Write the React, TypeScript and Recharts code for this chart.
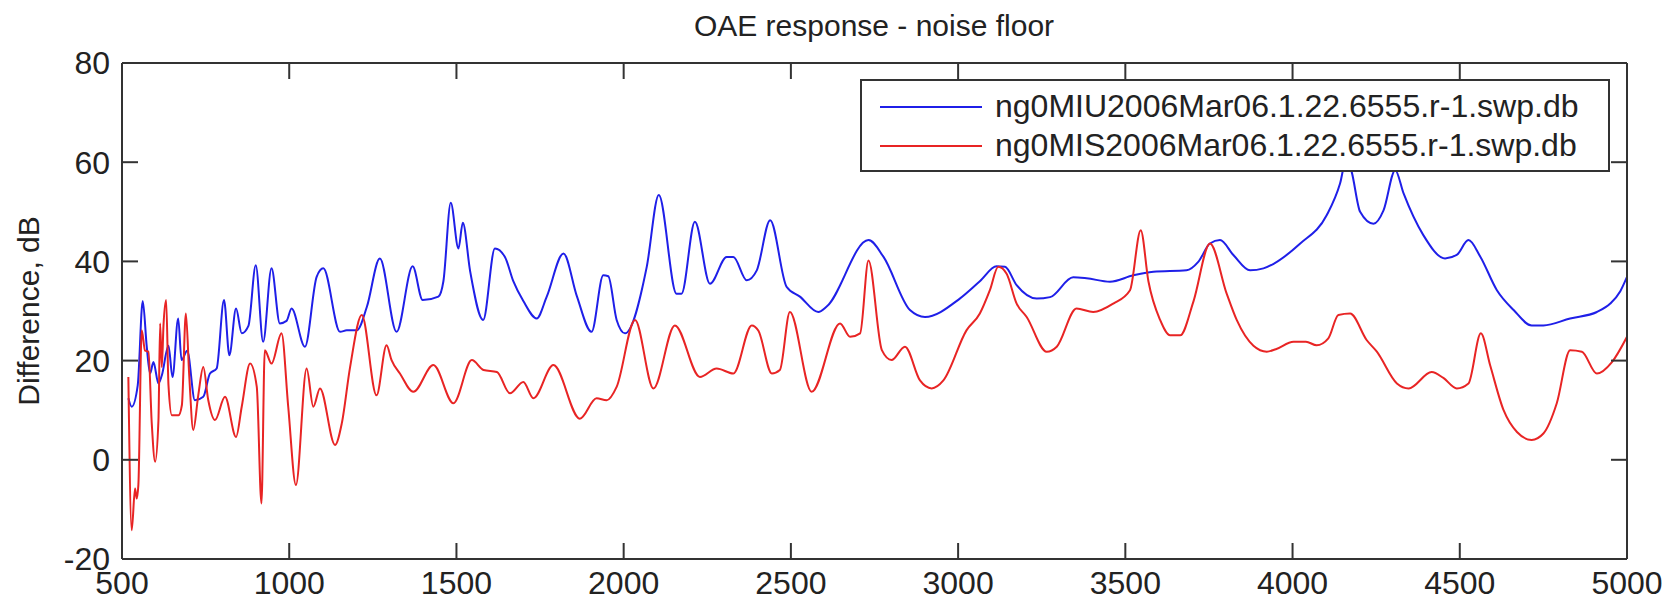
import { LineChart, Line, XAxis, YAxis, Legend, Label } from "recharts";

// frequency (Hz) / difference (dB)
const uFreq = [
  519, 529, 547, 562, 574, 584, 594, 609, 619, 639, 651, 668, 678, 695, 718, 743, 763, 783, 805, 821,
  841, 858, 878, 900, 922, 947, 972, 992, 1007, 1047, 1082, 1102, 1152, 1172, 1202, 1232, 1271, 1321, 1369, 1399,
  1446, 1461, 1483, 1506, 1519, 1541, 1580, 1615, 1645, 1670, 1700, 1740, 1770, 1820, 1860, 1904, 1939, 1954, 1979, 2004,
  2069, 2105, 2158, 2173, 2213, 2258, 2308, 2328, 2368, 2398, 2438, 2487, 2527, 2582, 2607, 2732, 2777, 2856, 2901, 3005,
  3065, 3115, 3140, 3175, 3235, 3275, 3344, 3384, 3454, 3524, 3584, 3683, 3718, 3753, 3783, 3823, 3873, 3913, 4023, 4102,
  4142, 4162, 4177, 4202, 4242, 4272, 4307, 4332, 4391, 4456, 4491, 4526, 4561, 4611, 4661, 4715, 4750, 4830, 4910, 4950,
  4980, 5000,
];
const uValues = [
  12.4, 10.7, 15, 32, 22.8, 17.4, 19.7, 15.4, 17, 23, 16.7, 28.5, 20.1, 22, 12, 12.7, 17.4, 18.4, 32.2, 21.1,
  30.5, 25.5, 27, 39.2, 23.8, 38.6, 27.5, 28, 30.5, 22.8, 36.9, 38.6, 25.8, 26.1, 26.1, 30.8, 40.6, 25.8, 39, 32.2,
  32.9, 36, 51.8, 42.6, 47.8, 38, 28.2, 42.6, 40.9, 36, 32, 28.5, 32.9, 41.6, 33, 25.8, 37.2, 37, 28.2, 25.5,
  38.9, 53.4, 33.5, 33.5, 48, 35.5, 40.9, 40.9, 36.2, 38.2, 48.3, 34.9, 32.9, 29.8, 30.9, 44.3, 40.9, 30.2, 28.8, 32.5,
  36, 39, 38.9, 35.2, 32.5, 32.8, 36.8, 36.6, 35.9, 37.2, 37.9, 38.2, 39.9, 43.6, 44.3, 41.3, 38.2, 38.6, 43.6, 49.3,
  55.7, 61, 58, 50, 47.6, 50.3, 58.4, 53.7, 45.3, 40.6, 41.3, 44.3, 41, 34.2, 30.2, 27.1, 27.1, 28.5, 29.8, 31.5,
  34, 36.9,
];

const sFreq = [
  519, 529, 539, 544, 549, 559, 569, 579, 589, 599, 609, 614, 619, 624, 632, 639, 649, 669, 679, 691,
  701, 713, 728, 743, 758, 778, 808, 841, 858, 883, 903, 917, 927, 947, 977, 997, 1020, 1052, 1072, 1092,
  1137, 1157, 1182, 1217, 1261, 1291, 1306, 1331, 1371, 1431, 1491, 1546, 1581, 1621, 1660, 1700, 1730, 1790, 1869, 1919,
  1949, 1979, 2034, 2089, 2153, 2228, 2278, 2328, 2383, 2403, 2443, 2467, 2497, 2562, 2647, 2677, 2707, 2732, 2772, 2801,
  2841, 2886, 2921, 2956, 3025, 3065, 3095, 3120, 3145, 3175, 3205, 3265, 3295, 3354, 3404, 3464, 3514, 3546, 3569, 3604,
  3634, 3664, 3704, 3753, 3803, 3833, 3883, 3923, 3950, 4003, 4040, 4072, 4107, 4137, 4172, 4222, 4252, 4312, 4347, 4416,
  4451, 4491, 4526, 4563, 4591, 4631, 4671, 4715, 4750, 4790, 4830, 4865, 4910, 4955, 5000,
];
const sValues = [
  16.7, -14.2, -5.8, -7.8, -5, 26.1, 22, 21.8, 7.3, -0.4, 8, 27.5, 18.7, 27, 32.2, 15, 9, 9, 11, 29.5,
  17, 6, 13, 18.7, 12, 8, 12.7, 4.6, 10.7, 19.4, 14.7, -8.8, 22.1, 19.4, 25.5, 10.7, -5.1, 18.4, 10.7, 14.4,
  3, 7.3, 18.7, 29.2, 13, 23.1, 20.1, 17.4, 13.7, 19.1, 11.4, 20.1, 18.1, 17.7, 13.4, 15.7, 12.4, 19.1, 8.3, 12.4,
  12, 14.7, 28.2, 14.4, 27.1, 16.7, 18.4, 17.4, 27.1, 26, 17.4, 18.1, 29.8, 13.7, 27.5, 24.8, 25.5, 40.2, 22.1, 20.1,
  22.8, 16, 14.4, 16, 26.1, 29.5, 34.2, 38.9, 37.5, 31.5, 28.8, 21.8, 22.8, 30.5, 29.8, 31.5, 34.2, 46.3, 36, 28.2,
  25.1, 25.1, 32, 43.6, 33.5, 28.2, 23, 21.8, 22.3, 23.8, 23.8, 23.1, 24.5, 29.2, 29.5, 24.1, 21.8, 15.4, 14.4, 17.7,
  16.5, 14.4, 15.4, 25.5, 19, 10, 5.6, 4, 5.3, 11.4, 22.1, 21.8, 17.4, 19.7, 24.8,
];

const xTicks = [500, 1000, 1500, 2000, 2500, 3000, 3500, 4000, 4500, 5000];
const yTicks = [-20, 0, 20, 40, 60, 80];

const seriesNames = [
  "ng0MIU2006Mar06.1.22.6555.r-1.swp.db",
  "ng0MIS2006Mar06.1.22.6555.r-1.swp.db",
];

const uData = uFreq.map((f, i) => ({ f, v: uValues[i] }));
const sData = sFreq.map((f, i) => ({ f, v: sValues[i] }));

const FONT = '"Liberation Sans", Arial, Helvetica, sans-serif';
const AXIS = "#333";
const BLUE = "#1f1fe8";
const RED = "#e82424";
const blank = () => "";

function renderLegend() {
  const rows = [
    { name: seriesNames[0], color: BLUE },
    { name: seriesNames[1], color: RED },
  ];
  return (
    <div
      style={{
        width: 750,
        height: 93,
        boxSizing: "border-box",
        border: `2px solid ${AXIS}`,
        background: "#fff",
        fontFamily: FONT,
        fontSize: 32,
        color: "#222",
        paddingTop: 6,
      }}
    >
      {rows.map((r) => (
        <div key={r.name} style={{ display: "flex", alignItems: "center", height: 39 }}>
          <div style={{ width: 102, height: 2, background: r.color, marginLeft: 18, marginRight: 13 }} />
          <span style={{ lineHeight: "39px", whiteSpace: "nowrap" }}>{r.name}</span>
        </div>
      ))}
    </div>
  );
}

export default function App() {
  const tickStyle = { fontSize: 32, fill: "#222", fontFamily: FONT };
  // mirrored axes only draw the box and the inward (matlab style) ticks
  const frameX = {
    type: "number" as const,
    dataKey: "f",
    domain: [500, 5000],
    ticks: xTicks,
    allowDataOverflow: true,
    mirror: true,
    height: 20,
    tickSize: 16,
    tickFormatter: blank,
    stroke: AXIS,
    strokeWidth: 2,
    interval: 0 as const,
  };
  const frameY = {
    type: "number" as const,
    domain: [-20, 80],
    ticks: yTicks,
    allowDataOverflow: true,
    mirror: true,
    width: 20,
    tickSize: 16,
    tickFormatter: blank,
    stroke: AXIS,
    strokeWidth: 2,
    interval: 0 as const,
  };
  return (
    <div style={{ position: "relative", width: 1672, height: 602, background: "#fff" }}>
      <style>{"body{margin:0}"}</style>
      <div
        style={{
          position: "absolute",
          left: 0,
          width: 1748,
          top: 8,
          textAlign: "center",
          fontFamily: FONT,
          fontSize: 30,
          color: "#222",
          lineHeight: "36px",
          pointerEvents: "none",
          zIndex: 2,
        }}
      >
        OAE response - noise floor
      </div>
      <LineChart width={1672} height={602} data={uData} margin={{ top: 63, right: 45, bottom: 0, left: 0 }}>
        <XAxis
          dataKey="f"
          type="number"
          domain={[500, 5000]}
          ticks={xTicks}
          allowDataOverflow
          height={43}
          tickSize={0}
          tickMargin={12}
          tickLine={false}
          axisLine={false}
          tick={tickStyle}
          interval={0}
        />
        <XAxis xAxisId="bottomFrame" orientation="bottom" {...frameX} />
        <XAxis xAxisId="topFrame" orientation="top" {...frameX} />
        <YAxis
          type="number"
          domain={[-20, 80]}
          ticks={yTicks}
          allowDataOverflow
          width={122}
          tickSize={0}
          tickMargin={12}
          tickLine={false}
          axisLine={false}
          tick={tickStyle}
          interval={0}
        >
          <Label
            content={({ viewBox }: any) => {
              const cx = viewBox.x + 28;
              const cy = viewBox.y + viewBox.height / 2;
              return (
                <text
                  x={cx}
                  y={cy}
                  transform={`rotate(-90 ${cx} ${cy})`}
                  textAnchor="middle"
                  dominantBaseline="central"
                  style={{ fontSize: 30, fill: "#222", fontFamily: FONT }}
                >
                  Difference, dB
                </text>
              );
            }}
          />
        </YAxis>
        <YAxis yAxisId="leftFrame" orientation="left" {...frameY} />
        <YAxis yAxisId="rightFrame" orientation="right" {...frameY} />
        <Legend
          content={renderLegend}
          layout="horizontal"
          verticalAlign="middle"
          align="center"
          wrapperStyle={{ position: "absolute", left: 860, top: 79, width: 750, height: 93, right: "auto", bottom: "auto" }}
        />
        <Line
          data={uData}
          dataKey="v"
          name={seriesNames[0]}
          stroke={BLUE}
          strokeWidth={2}
          dot={false}
          type="monotone"
          isAnimationActive={false}
        />
        <Line
          data={sData}
          dataKey="v"
          name={seriesNames[1]}
          stroke={RED}
          strokeWidth={2}
          dot={false}
          type="monotone"
          isAnimationActive={false}
        />
      </LineChart>
    </div>
  );
}
